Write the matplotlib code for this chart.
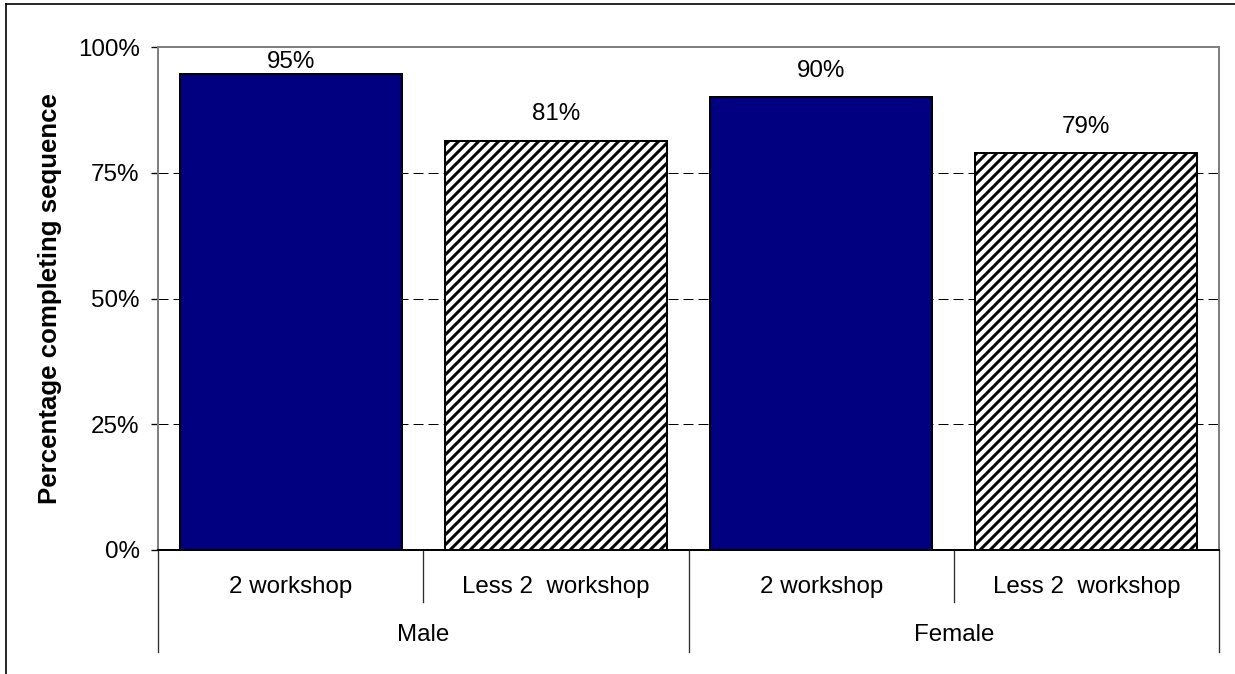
import numpy as np
import matplotlib
matplotlib.use('Agg')
import matplotlib.pyplot as plt
from matplotlib.lines import Line2D

# Datos del gráfico
groups = ['Male', 'Female']
sub_labels = ['2 workshop', 'Less 2  workshop']
values = [94.7, 81.4, 90.0, 78.9]  # % completando la secuencia
y_ticks = [0, 25, 50, 75, 100]
y_title = 'Percentage completing sequence'

plt.rcParams['font.family'] = ['Liberation Sans', 'DejaVu Sans']
plt.rcParams['hatch.linewidth'] = 1.8

W, H, DPI = 1235, 674, 120
fig = plt.figure(figsize=(W / DPI, H / DPI), dpi=DPI)
ax = fig.add_axes([158 / W, 1 - 550 / H, (1219 - 158) / W, 503 / H])

fs = 14.5
n = len(values)
x = np.arange(n)
for i, v in enumerate(values):
    if i % 2 == 0:
        ax.bar(x[i], v, width=0.837, color='#000080', edgecolor='black', linewidth=1.2, zorder=3)
    else:
        ax.bar(x[i], v, width=0.837, color='white', edgecolor='black', hatch='////', linewidth=1.2, zorder=3)
    ax.text(x[i], min(v + 5.2, 97), f'{v:.0f}%', ha='center', va='center', fontsize=fs, zorder=4)

ax.set_xlim(-0.5, n - 0.5)
ax.set_ylim(0, 100)
ax.set_yticks(y_ticks)
ax.set_yticklabels([f'{t}%' for t in y_ticks])
ax.tick_params(axis='y', length=4, width=0.8, pad=7, labelsize=fs)
ax.set_xticks([])

# líneas de referencia
for t in y_ticks[1:-1]:
    ax.axhline(t, color='black', linewidth=0.6, linestyle=(0, (10, 5)), zorder=1)

for s in ['left', 'top', 'right']:
    ax.spines[s].set_color('#808080')
    ax.spines[s].set_linewidth(1.2)
ax.spines['bottom'].set_color('black')
ax.spines['bottom'].set_linewidth(1.2)
ax.spines['bottom'].set_zorder(5)

# eje de categorías en dos niveles
trans = ax.get_xaxis_transform()
short_y = -52 / 503
long_y = -102 / 503
for i in range(n + 1):
    xb = i - 0.5
    yb = long_y if i % 2 == 0 else short_y
    ax.add_line(Line2D([xb, xb], [0, yb], transform=trans, color='#303030', linewidth=0.8, clip_on=False))
for i in range(n):
    ax.text(x[i], -37 / 503, sub_labels[i % 2], transform=trans, ha='center', va='center', fontsize=fs)
for g, name in enumerate(groups):
    ax.text(2 * g + 0.5, -85 / 503, name, transform=trans, ha='center', va='center', fontsize=fs)

fig.text(50 / W, 1 - 298.5 / H, y_title, rotation=90, ha='center', va='center',
         fontsize=15.5, fontweight='bold')

# borde de la figura (solo arriba e izquierda visibles)
fig.add_artist(Line2D([6 / W, 1], [1 - 4 / H, 1 - 4 / H], transform=fig.transFigure, color='black', linewidth=1.0))
fig.add_artist(Line2D([6 / W, 6 / W], [0, 1 - 4 / H], transform=fig.transFigure, color='black', linewidth=1.0))

fig.savefig('out.png', dpi=DPI)
